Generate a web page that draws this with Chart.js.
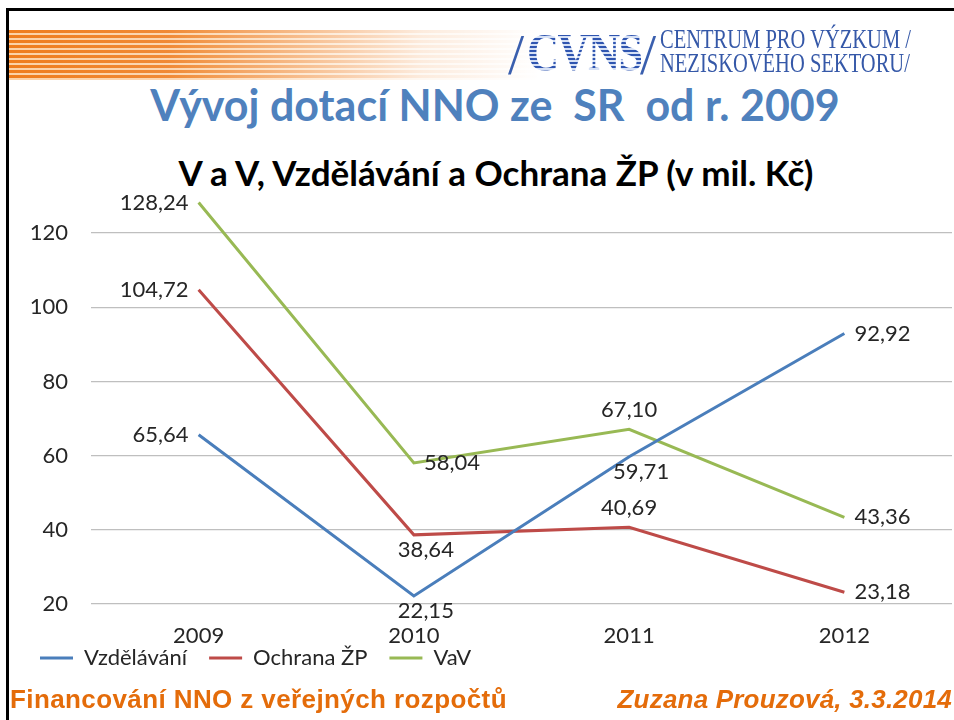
<!DOCTYPE html>
<html>
<head>
<meta charset="utf-8">
<script src="https://cdn.jsdelivr.net/npm/chart.js@4.4.1/dist/chart.umd.min.js"></script>
<style>
  html, body { margin: 0; padding: 0; background: #fff; }
  #page { position: relative; width: 954px; height: 720px; overflow: hidden; background: #fff; }
  #frame { position: absolute; left: 6px; top: 8px; right: -10px; bottom: -10px; border-top: 3px solid #000; border-left: 3px solid #000; }
  #stripes { position: absolute; left: 9px; top: 30px; width: 530px; height: 50px;
    background:
      linear-gradient(to right, rgba(255,255,255,0) 0%, rgba(255,255,255,0.1) 30%, rgba(255,255,255,0.85) 78%, #fff 100%),
      repeating-linear-gradient(to bottom, #ef7d1e 0px, #ef7d1e 3px, #fbd2a8 3px, #fbd2a8 5px); }
  .sl { position: absolute; font-family: "Liberation Serif"; font-size: 58px; line-height: 58px; color: #3a5fae; }
  #cvns { position: absolute; left: 527px; top: 26px; font-family: "Liberation Serif"; font-weight: bold; font-size: 53px; line-height: 53px; letter-spacing: -2px;
    transform: scaleX(0.84); transform-origin: left;
    background: repeating-linear-gradient(to bottom, #2f55b0 0px, #2f55b0 2.5px, #d5e0f5 2.5px, #d5e0f5 4px);
    -webkit-background-clip: text; background-clip: text; color: transparent; }
  #logotxt { position: absolute; left: 660px; top: 27px; font-family: "Liberation Serif"; font-size: 27px; line-height: 24px; color: #3558a8; white-space: nowrap; transform: scaleX(0.76); transform-origin: left; }
  #title { position: absolute; left: 0; width: 990px; top: 83px; text-align: center; font-family: Lato, "Open Sans", sans-serif; font-weight: bold; font-size: 43px; line-height: 43px; color: #4f81bd; white-space: pre; }
  #ctitle { position: absolute; left: 0; width: 992px; top: 155px; text-align: center; font-family: Lato, "Open Sans", sans-serif; font-weight: bold; font-size: 35px; line-height: 35px; color: #000; white-space: pre; }
  #chart { position: absolute; left: 0; top: 0; }
  .foot { position: absolute; top: 684px; font-family: "Liberation Sans", Arial, sans-serif; font-weight: bold; font-size: 26px; color: #e46c0a; white-space: nowrap; letter-spacing: 0.4px; }
  #footL { left: 10px; }
  #footR { right: 2px; font-style: italic; letter-spacing: 0.2px; }
</style>
</head>
<body>
<div id="page">
  <div id="frame"></div>
  <div id="stripes"></div>
  <span class="sl" style="left:508px; top:26px">/</span>
  <span id="cvns">CVNS</span>
  <span class="sl" style="left:640px; top:26px">/</span>
  <div id="logotxt">CENTRUM PRO VÝZKUM /<br>NEZISKOVÉHO SEKTORU/</div>
  <div id="title">Vývoj dotací NNO ze  SR  od r. 2009</div>
  <div id="ctitle">V a V, Vzdělávání a Ochrana ŽP (v mil. Kč)</div>
  <canvas id="chart" width="954" height="720"></canvas>
  <div class="foot" id="footL">Financování NNO z veřejných rozpočtů</div>
  <div class="foot" id="footR">Zuzana Prouzová, 3.3.2014</div>
</div>
<script>
// data (mil. Kč)
const years = ['2009', '2010', '2011', '2012'];
const vzdelavani = [65.64, 22.15, 59.71, 92.92];
const ochranaZP = [104.72, 38.64, 40.69, 23.18];
const vav = [128.24, 58.04, 67.10, 43.36];
const seriesNames = ['Vzdělávání', 'Ochrana ŽP', 'VaV'];
const yTicks = [20, 40, 60, 80, 100, 120];

// where each value label sits relative to its point
const labelPos = [
    ['left', 'below', 'below', 'right'],
    ['left', 'below', 'above', 'right'],
    ['left', 'right', 'above', 'right']
];

const fontFamily = 'Lato, "Open Sans", sans-serif';
const textColor = '#262626';
const colors = ['#4a7ebb', '#be4b48', '#98b954'];

function fmt(v) {
    return v.toFixed(2).replace('.', ',');
}

// Value labels next to the points
const valueLabels = {
    id: 'valueLabels',
    afterDatasetsDraw(chart) {
        const ctx = chart.ctx;
        ctx.save();
        ctx.font = '22px ' + fontFamily;
        ctx.fillStyle = textColor;
        ctx.textBaseline = 'middle';
        chart.data.datasets.forEach((ds, i) => {
            const meta = chart.getDatasetMeta(i);
            meta.data.forEach((pt, j) => {
                const pos = labelPos[i][j];
                let x = pt.x, y = pt.y;
                if (pos === 'left') {
                    ctx.textAlign = 'right';
                    x -= 10;
                } else if (pos === 'right') {
                    ctx.textAlign = 'left';
                    x += 10;
                } else if (pos === 'above') {
                    ctx.textAlign = 'center';
                    y -= 19;
                } else {
                    ctx.textAlign = 'center';
                    x += 12;
                    y += 15;
                }
                ctx.fillText(fmt(ds.data[j]), x, y);
            });
        });
        ctx.restore();
    }
};

const datasets = [vzdelavani, ochranaZP, vav].map((d, i) => ({
    label: seriesNames[i],
    data: d,
    borderColor: colors[i],
    backgroundColor: colors[i],
    borderWidth: 3,
    pointBorderWidth: 3,
    pointRadius: 0,
    pointHoverRadius: 0,
    tension: 0
}));

const ctx = document.getElementById('chart').getContext('2d');
new Chart(ctx, {
    type: 'line',
    data: { labels: years, datasets: datasets },
    options: {
        responsive: false,
        animation: false,
        clip: false,
        layout: { padding: { left: 18, right: 2, top: 196, bottom: 41 } },
        scales: {
            x: {
                offset: true,
                afterFit: (scale) => {
                    // keep the legend tight under the axis, labels may overflow the box
                    scale.height = 21;
                    scale._computeLabelArea = () => undefined;
                },
                grid: { display: false, drawTicks: false },
                border: { display: false },
                ticks: { color: textColor, font: { family: fontFamily, size: 22 }, padding: 19 }
            },
            y: {
                min: 20,
                max: 130,
                afterBuildTicks: (scale) => { scale.ticks = yTicks.map(v => ({ value: v })); },
                afterFit: (scale) => { scale.width = 73; },
                grid: { color: '#bfbfbf', lineWidth: 1.3, drawTicks: false },
                border: { display: false },
                ticks: { color: textColor, font: { family: fontFamily, size: 22 }, padding: 23 }
            }
        },
        plugins: {
            legend: {
                position: 'bottom',
                align: 'start',
                labels: {
                    usePointStyle: true,
                    pointStyle: 'line',
                    pointStyleWidth: 33,
                    color: textColor,
                    font: { family: fontFamily, size: 22 },
                    padding: 22
                }
            },
            tooltip: { enabled: false }
        }
    },
    plugins: [valueLabels]
});
</script>
</body>
</html>
